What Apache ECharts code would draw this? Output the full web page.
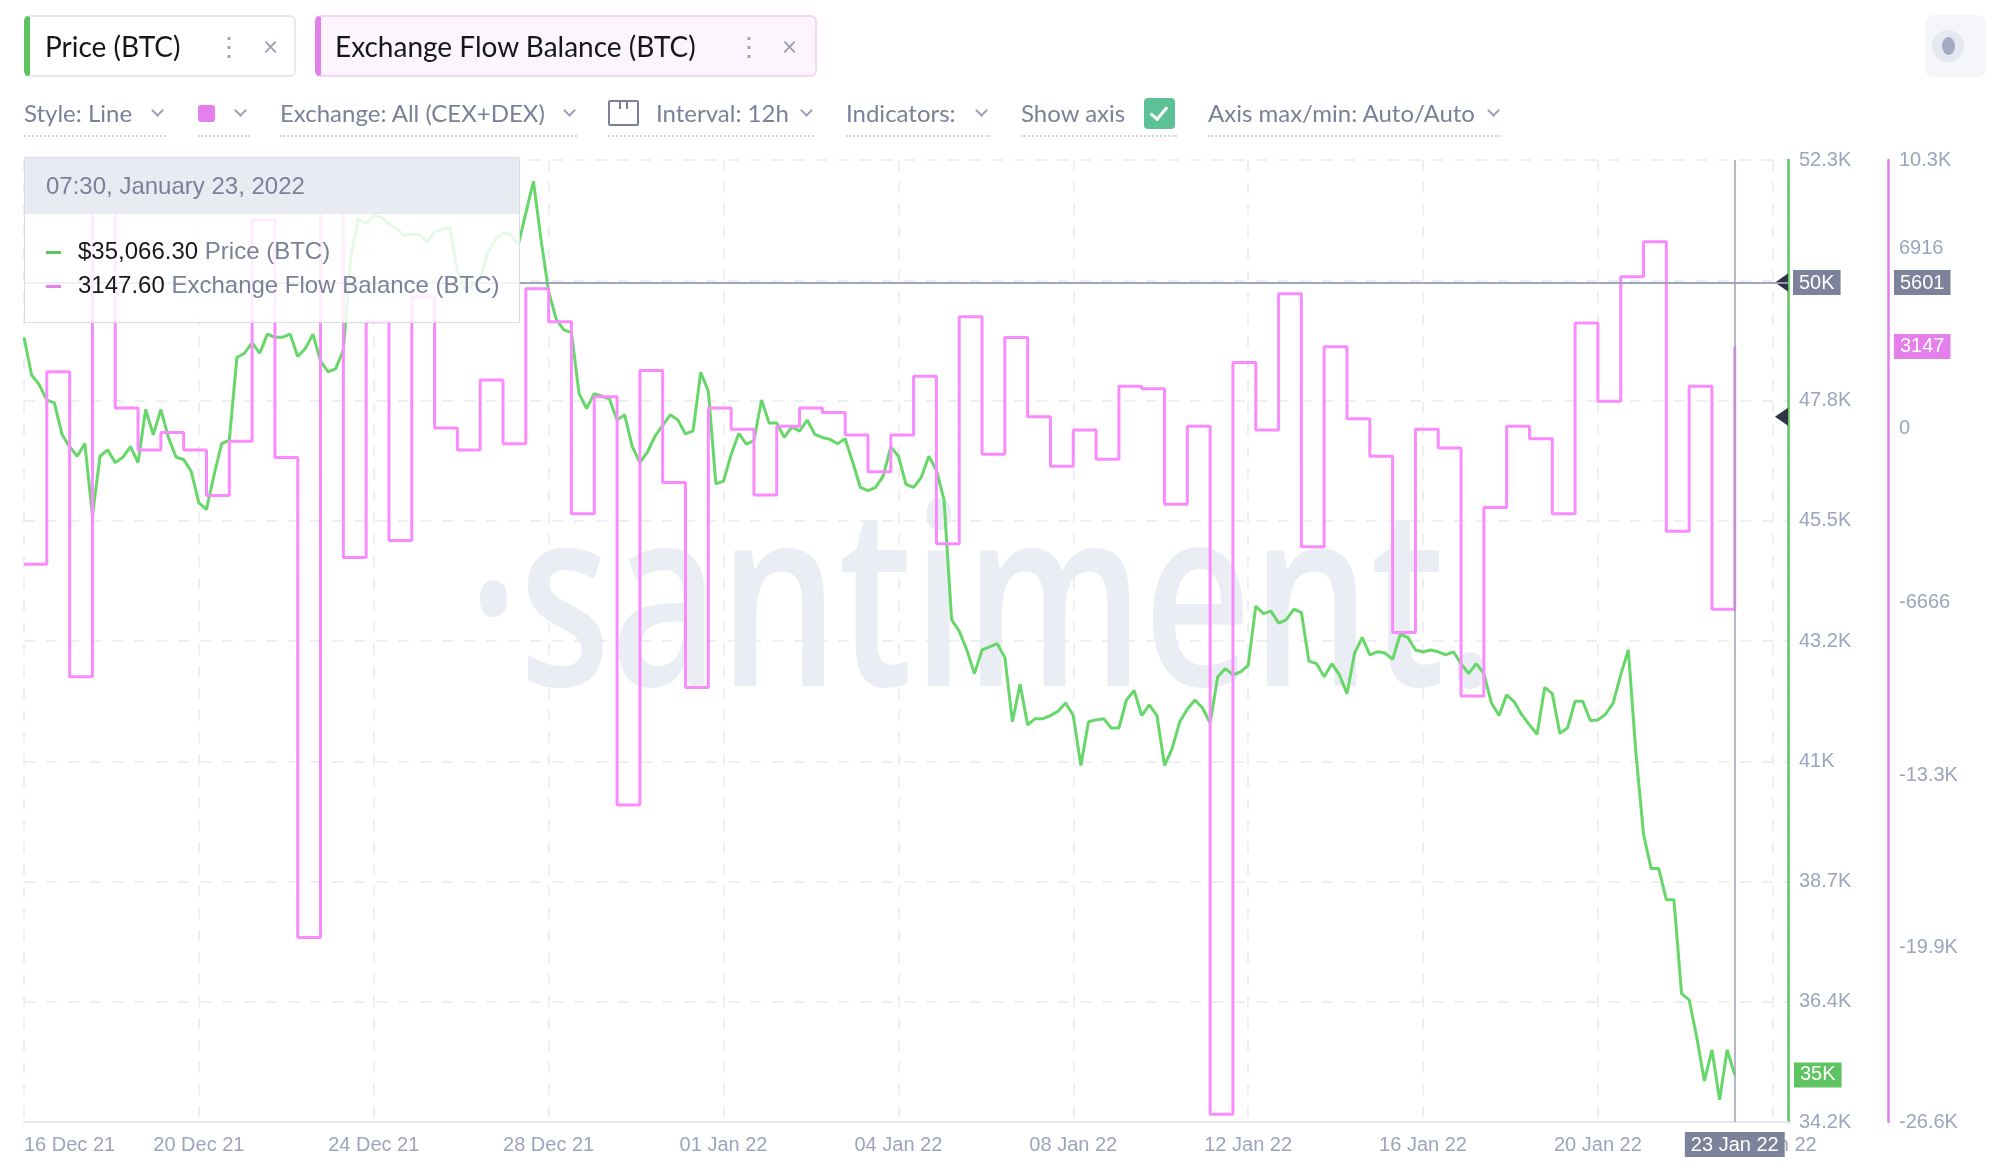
<!DOCTYPE html>
<html>
<head>
<meta charset="utf-8">
<script src="https://cdn.jsdelivr.net/npm/echarts@6/dist/echarts.min.js"></script>
<style>
  body { margin: 0; background: #fff; overflow: hidden; }
  #chart { position: absolute; left: 0; top: 0; width: 2008px; height: 1174px; }
  .ui { position: absolute; font-family: 'Lato', 'Liberation Sans', sans-serif; }
  .tab { top: 15px; height: 62px; box-sizing: border-box; border: 2px solid #e7e9f1; border-radius: 6px;
         font-size: 28px; color: #15171c; }
  .tab span { position: absolute; top: 0; line-height: 58px; }
  .tab .dots, .tab .x { color: #9aa1b5; font-size: 26px; }
  .tool { top: 98px; height: 30px; line-height: 30px; font-size: 24px; color: #7b8199; white-space: nowrap; }
  .chev { position: absolute; width: 7px; height: 7px; border-right: 2px solid #9aa1b5; border-bottom: 2px solid #9aa1b5;
          transform: rotate(45deg); top: 106px; }
  .dash { position: absolute; top: 135px; height: 0; border-top: 2px dotted #d3d6e3; }
</style>
</head>
<body>
<div id="chart"></div>

<div class="ui tab" style="left:24px;width:272px;border-left:6px solid #5dc35f;">
  <span style="left:15px">Price (BTC)</span>
  <span class="dots" style="left:186px">&#8942;</span>
  <span class="x" style="left:233px">&#215;</span>
</div>
<div class="ui tab" style="left:315px;width:502px;border-color:#f5d5f8;border-left:6px solid #e27fea;background:#fdf5fe;">
  <span style="left:14px">Exchange Flow Balance (BTC)</span>
  <span class="dots" style="left:415px">&#8942;</span>
  <span class="x" style="left:461px">&#215;</span>
</div>
<div class="ui" style="left:1925px;top:15px;width:61px;height:62px;background:#f5f6fa;border-radius:8px;">
  <div style="position:absolute;left:7px;top:15px;width:32px;height:32px;border-radius:50%;background:#e6e8f0;"></div>
  <div style="position:absolute;left:16.5px;top:22px;width:13px;height:18px;border-radius:50%;background:#a3a9c2;"></div>
</div>

<div class="ui tool" style="left:24px">Style: Line</div>
<div class="chev" style="left:153px"></div>
<div class="ui" style="left:198px;top:105px;width:17px;height:17px;border-radius:3px;background:#e47feb;"></div>
<div class="chev" style="left:236px"></div>
<div class="ui tool" style="left:280px">Exchange: All (CEX+DEX)</div>
<div class="chev" style="left:565px"></div>
<div class="ui" style="left:608px;top:100px;width:27px;height:22px;border:2px solid #7b8199;border-radius:2px;"></div>
<div class="ui" style="left:619px;top:102px;width:2px;height:7px;background:#7b8199;"></div>
<div class="ui" style="left:626px;top:102px;width:2px;height:7px;background:#7b8199;"></div>
<div class="ui tool" style="left:656px">Interval: 12h</div>
<div class="chev" style="left:802px"></div>
<div class="ui tool" style="left:846px">Indicators:</div>
<div class="chev" style="left:977px"></div>
<div class="ui tool" style="left:1021px">Show axis</div>
<div class="ui" style="left:1144px;top:98px;width:31px;height:31px;border-radius:4px;background:#5cc197;"></div>
<div class="ui" style="left:1154px;top:103px;width:7px;height:14px;border-right:3px solid #fff;border-bottom:3px solid #fff;transform:rotate(40deg);"></div>
<div class="ui tool" style="left:1208px">Axis max/min: Auto/Auto</div>
<div class="chev" style="left:1489px"></div>

<div class="dash" style="left:24px;width:142px"></div>
<div class="dash" style="left:198px;width:52px"></div>
<div class="dash" style="left:280px;width:297px"></div>
<div class="dash" style="left:608px;width:206px"></div>
<div class="dash" style="left:846px;width:144px"></div>
<div class="dash" style="left:1021px;width:156px"></div>
<div class="dash" style="left:1208px;width:292px"></div>

<script>
// first sample time: 16 Dec 2021 19:30 (UTC); x axis is in hours from here
var START = Date.UTC(2021, 11, 16, 19, 30);
var HOUR = 3600 * 1000;
var PRICE_STEP_H = 4;   // price sampled every 4h
var FLOW_STEP_H = 12;   // flow balance every 12h
var X_MAX_H = 928;
var X_TICK_H = 92;

// BTC price, USD, every 4 hours
var price = [
  48957, 48250, 48070, 47780, 47720, 47130, 46900, 46720, 46960, 45600, 46720, 46840,
  46600, 46700, 46900, 46600, 47600, 47130, 47600, 47070, 46700, 46660, 46430, 45840,
  45720, 46370, 46960, 47020, 48580, 48660, 48860, 48660, 49020, 48960, 48960, 49020,
  48600, 48750, 49020, 48510, 48310, 48370, 48720, 50500, 51200, 51100, 51250, 51220,
  51100, 51000, 50880, 50900, 50900, 50750, 50950, 51000, 51030, 50200, 49850, 49950,
  50050, 50550, 50800, 50930, 50900, 50700, 51300, 51900, 50800, 49820, 49300, 49100,
  49050, 47900, 47620, 47900, 47850, 47800, 47400, 47500, 46900, 46600, 46800, 47100,
  47300, 47500, 47400, 47140, 47200, 48300, 47950, 46200, 46250, 46750, 47150, 46950,
  47015, 47780, 47345, 47345, 47074, 47274, 47192, 47403, 47133, 47074, 47038, 46956,
  47050, 46603, 46132, 46073, 46132, 46344, 46897, 46721, 46191, 46132, 46320, 46721,
  46462, 45897, 43637, 43425, 43072, 42625, 43072, 43131, 43190, 42931, 41718, 42424,
  41660, 41777, 41777, 41836, 41919, 42071, 41836, 40894, 41718, 41754, 41777, 41601,
  41601, 42130, 42307, 41836, 42036, 41836, 40894, 41212, 41718, 41954, 42130, 41977,
  41695, 42566, 42719, 42601, 42660, 42778, 43896, 43755, 43802, 43578, 43637, 43838,
  43778, 42860, 42813, 42566, 42813, 42601, 42248, 43013, 43308, 42978, 43037, 43013,
  42896, 43366, 43308, 43072, 43037, 43072, 43037, 42978, 43037, 42813, 42624, 42813,
  42624, 42071, 41836, 42225, 42095, 41848, 41660, 41483, 42366, 42248, 41500, 41601,
  42107, 42107, 41742, 41754, 41860, 42071, 42601, 43072, 41130, 39600, 38953, 38953,
  38364, 38364, 36599, 36481, 35775, 34951, 35539, 34598, 35539, 35066.3
];

// exchange flow balance, BTC, every 12 hours
var flow = [
  -5209, 2174, -9523, 10000, 784, -822, -151, -822, -2572, -486,
  8000, -1110, -19519, 9000, -4945, 4092, -4298, 5051, 17, -822,
  1863, -583, 5362, 4092, -3267, 1215, -14437, 2222, -2069, -9931,
  784, -31, -2548, 89, 784, 616, -247, -1661, -247, 2006,
  -4418, 4284, -990, 3492, 448, -1445, -55, -1182, 1623, 1527,
  -2907, 89, -26300, 2534, -55, 5170, -4537, 3133, 376, -1062,
  -7821, -31, -750, -10260, -3027, 89, -391, -3267, 4044, 1047,
  5818, 7160, -3938, 1623, -6935, 3147.6
];

var priceTicks = [34180, 36445, 38710, 40975, 43240, 45505, 47770, 50035, 52300];
var priceTickLabels = ['34.2K', '36.4K', '38.7K', '41K', '43.2K', '45.5K', '47.8K', '50K', '52.3K'];
var flowTicks = [-26600, -19900, -13300, -6666, 0, 6916, 10300];
var flowTickLabels = ['-26.6K', '-19.9K', '-13.3K', '-6666', '0', '6916', '10.3K'];

// crosshair (mouse) level read on the flow axis, and the extra handle on the price axis
var POINTER_FLOW = 5601;
var HANDLE_PRICE = 47465;

var MON = ['Jan','Feb','Mar','Apr','May','Jun','Jul','Aug','Sep','Oct','Nov','Dec'];
var MONTH = ['January','February','March','April','May','June','July','August','September','October','November','December'];
var GREEN = '#5ec461', PINK = '#e47feb', LABEL = '#9da5be', GRID = '#e8eaf2', POINTER = '#7b8299';

function pad(n) { return (n < 10 ? '0' : '') + n; }
function dayLabel(t) {
  var d = new Date(START + t * HOUR);
  return pad(d.getUTCDate()) + ' ' + MON[d.getUTCMonth()] + ' ' + String(d.getUTCFullYear()).slice(2);
}
function kRound(v) {
  return Math.round(v / 1000) + 'K';
}
function lookup(ticks, labels) {
  return function (v) {
    for (var i = 0; i < ticks.length; i++) {
      if (Math.abs(ticks[i] - v) < 1) return labels[i];
    }
    return '';
  };
}

var priceData = price.map(function (v, i) { return [i * PRICE_STEP_H, v]; });
var flowData = flow.map(function (v, i) { return [i * FLOW_STEP_H, v]; });
var lastT = priceData[priceData.length - 1][0];
var lastPrice = price[price.length - 1];
var lastFlow = flow[flow.length - 1];

var chart = echarts.init(document.getElementById('chart'));

var pointerLabel = {
  backgroundColor: POINTER, color: '#fff', fontSize: 20, padding: [3, 6, 2, 6],
  fontFamily: 'Liberation Sans', borderRadius: 0, shadowBlur: 0
};
var lastLabel = {
  position: 'end', color: '#fff', fontSize: 20, padding: [3, 6, 2, 6], fontFamily: 'Liberation Sans'
};

var option = {
  animation: false,
  textStyle: { fontFamily: 'Liberation Sans' },
  grid: { left: 24, right: 220, top: 160, bottom: 52 },
  xAxis: {
    type: 'value', min: 0, max: X_MAX_H, interval: X_TICK_H,
    axisLine: { onZero: false, lineStyle: { color: '#e3e6ee', width: 2 } },
    axisTick: { show: false },
    splitLine: { show: true, lineStyle: { color: GRID, type: [11, 11], width: 1.5 } },
    axisLabel: {
      color: LABEL, fontSize: 20, margin: 13, showMaxLabel: false, alignMinLabel: 'left',
      formatter: function (v) { return dayLabel(v); }
    },
    axisPointer: {
      snap: true,
      label: Object.assign({}, pointerLabel, { margin: 10, formatter: function (p) { return dayLabel(p.value); } })
    }
  },
  yAxis: [
    {
      type: 'value', position: 'right', min: 34180, max: 52300,
      axisLine: { show: true, onZero: false, lineStyle: { color: GREEN, width: 2.5 } },
      axisTick: { show: false, customValues: priceTicks },
      axisLabel: {
        show: true, customValues: priceTicks, color: LABEL, fontSize: 20, margin: 11,
        formatter: lookup(priceTicks, priceTickLabels)
      },
      splitLine: { show: true, lineStyle: { color: GRID, type: [11, 11], width: 1.5 } },
      axisPointer: { label: Object.assign({}, pointerLabel, { margin: 5, formatter: function (p) { return kRound(p.value); } }) }
    },
    {
      type: 'value', position: 'right', offset: 100, min: -26600, max: 10300,
      axisLine: { show: true, onZero: false, lineStyle: { color: PINK, width: 2.5 } },
      axisTick: { show: false, customValues: flowTicks },
      axisLabel: {
        show: true, customValues: flowTicks, color: LABEL, fontSize: 20, margin: 11,
        formatter: lookup(flowTicks, flowTickLabels)
      },
      splitLine: { show: false },
      axisPointer: { label: Object.assign({}, pointerLabel, { margin: 6, formatter: function (p) { return String(Math.round(p.value)); } }) }
    }
  ],
  tooltip: {
    trigger: 'axis', triggerOn: 'none', alwaysShowContent: true, showDelay: 0, transitionDuration: 0,
    position: [24, 157],
    padding: 0, backgroundColor: 'rgba(255,255,255,0.84)', borderColor: '#d9dce8', borderWidth: 1.5,
    extraCssText: 'box-shadow:none;border-radius:0;',
    axisPointer: {
      type: 'cross',
      lineStyle: { color: '#9aa1b6', width: 1.5, type: 'solid' },
      crossStyle: { color: '#9aa1b6', width: 1.5, type: 'solid' }
    },
    formatter: function (params) {
      var p = params.filter(function (s) { return s.seriesIndex === 0; })[0];
      var f = params.filter(function (s) { return s.seriesIndex === 1; })[0];
      var d = new Date(START + p.value[0] * HOUR);
      var head = pad(d.getUTCHours()) + ':' + pad(d.getUTCMinutes()) + ', ' + MONTH[d.getUTCMonth()] + ' ' +
                 d.getUTCDate() + ', ' + d.getUTCFullYear();
      var pv = '$' + p.value[1].toLocaleString('en-US', { minimumFractionDigits: 2, maximumFractionDigits: 2 });
      var fv = f.value[1].toFixed(2);
      function row(color, val, name) {
        return '<div style="height:34px;line-height:34px;white-space:nowrap">' +
          '<span style="display:inline-block;width:15px;height:3px;background:' + color + ';vertical-align:middle;margin-right:17px"></span>' +
          '<span style="color:#17181d">' + val + '</span> <span style="color:#7b8199">' + name + '</span></div>';
      }
      return '<div style="width:494px;height:164px;font-family:Liberation Sans;font-size:24px;">' +
        '<div style="background:#e9ebf3;height:56px;line-height:56px;padding-left:21px;color:#7b8199">' + head + '</div>' +
        '<div style="padding:20px 0 0 21px">' + row(GREEN, pv, p.seriesName) + row(PINK, fv, f.seriesName) + '</div></div>';
    }
  },
  graphic: [
    {
      id: 'watermark', type: 'text', x: 982, y: 615, scaleX: 0.75, z: -10, silent: true,
      style: { text: '\u00b7santiment.', fill: '#ebedf4', font: '600 250px "Open Sans"', textAlign: 'center', textVerticalAlign: 'middle' }
    }
  ],
  series: [
    {
      name: 'Price (BTC)', type: 'line', yAxisIndex: 0, data: priceData,
      showSymbol: false, symbol: 'none', z: 3,
      lineStyle: { color: GREEN, width: 3 }, itemStyle: { color: GREEN },
      markLine: {
        silent: true, symbol: 'none', animation: false,
        lineStyle: { color: 'rgba(0,0,0,0)', type: 'solid' },
        data: [{ yAxis: lastPrice }],
        label: Object.assign({}, lastLabel, {
          distance: 6, backgroundColor: GREEN,
          formatter: function () { return kRound(lastPrice); }
        })
      }
    },
    {
      name: 'Exchange Flow Balance (BTC)', type: 'line', yAxisIndex: 1, data: flowData, step: 'end',
      showSymbol: false, symbol: 'none', z: 4,
      lineStyle: { color: PINK, width: 3 }, itemStyle: { color: PINK },
      markLine: {
        silent: true, symbol: 'none', animation: false,
        lineStyle: { color: 'rgba(0,0,0,0)', type: 'solid' },
        data: [{ yAxis: lastFlow }],
        label: Object.assign({}, lastLabel, {
          distance: 106, backgroundColor: PINK,
          formatter: function () { return String(Math.floor(lastFlow)); }
        })
      }
    }
  ]
};

chart.setOption(option);

// handles on the price axis
var axisX = chart.convertToPixel({ xAxisIndex: 0 }, X_MAX_H);
var ptr = chart.convertToPixel({ xAxisIndex: 0, yAxisIndex: 1 }, [lastT, POINTER_FLOW]);
var handleY = chart.convertToPixel({ yAxisIndex: 0 }, HANDLE_PRICE);
function tri(id, y) {
  return { id: id, type: 'polygon', z: 50, silent: true,
           shape: { points: [[axisX - 13, y], [axisX, y - 9], [axisX, y + 9]] },
           style: { fill: '#2f3447' } };
}
chart.setOption({ graphic: [tri('h1', ptr[1]), tri('h2', handleY)] });

chart.dispatchAction({ type: 'showTip', x: ptr[0], y: ptr[1] });
</script>
</body>
</html>
